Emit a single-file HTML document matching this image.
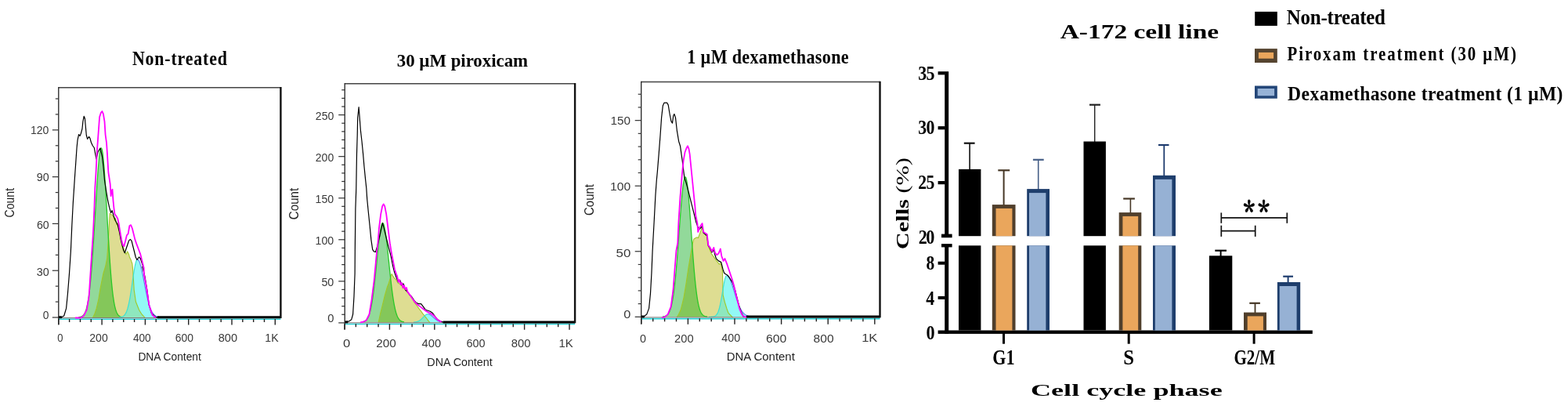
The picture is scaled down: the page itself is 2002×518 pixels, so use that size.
<!DOCTYPE html>
<html><head><meta charset="utf-8"><title>A-172 cell cycle</title>
<style>html,body{margin:0;padding:0;background:#fff;width:2002px;height:518px;overflow:hidden}svg{display:block}</style>
</head><body>
<svg width="2002" height="518" viewBox="0 0 2002 518"><defs><clipPath id="cg11"><polygon points="100.0,405.0 100.0,404.8 100.5,404.8 101.0,404.7 101.5,404.6 102.0,404.5 102.5,404.4 103.0,404.3 103.5,404.1 104.0,403.9 104.5,403.6 105.0,403.3 105.5,402.9 106.0,402.5 106.5,402.0 107.0,401.4 107.5,400.7 108.0,399.8 108.5,398.8 109.0,397.7 109.5,396.4 110.0,394.9 110.5,393.2 111.0,391.2 111.5,389.0 112.0,386.5 112.5,383.8 113.0,380.7 113.5,377.2 114.0,373.5 114.5,369.3 115.0,364.8 115.5,359.8 116.0,354.5 116.5,348.8 117.0,342.7 117.5,336.2 118.0,329.4 118.5,322.2 119.0,314.7 119.5,306.9 120.0,298.9 120.5,290.7 121.0,282.4 121.5,274.0 122.0,265.6 122.5,257.3 123.0,249.1 123.5,241.2 124.0,233.5 124.5,226.3 125.0,219.5 125.5,213.2 126.0,207.5 126.5,202.5 127.0,198.2 127.5,194.7 128.0,192.0 128.5,190.1 129.0,189.2 129.5,189.1 130.0,190.0 130.5,191.8 131.0,194.6 131.5,198.3 132.0,202.9 132.5,208.3 133.0,214.4 133.5,221.1 134.0,228.5 134.5,236.3 135.0,244.4 135.5,252.9 136.0,261.6 136.5,270.4 137.0,279.3 137.5,288.1 138.0,296.8 138.5,305.3 139.0,313.5 139.5,321.5 140.0,329.1 140.5,336.3 141.0,343.1 141.5,349.5 142.0,355.5 142.5,361.0 143.0,366.1 143.5,370.7 144.0,375.0 144.5,378.8 145.0,382.2 145.5,385.3 146.0,388.1 146.5,390.5 147.0,392.6 147.5,394.5 148.0,396.1 148.5,397.5 149.0,398.8 149.5,399.8 150.0,400.7 150.5,401.4 151.0,402.1 151.5,402.6 152.0,403.0 152.5,403.4 153.0,403.7 153.5,404.0 154.0,404.2 154.5,404.3 155.0,404.5 155.5,404.6 156.0,404.7 156.0,405.0"/></clipPath><clipPath id="cg21"><polygon points="152.0,405.0 152.0,404.9 152.5,404.9 153.0,404.8 153.5,404.8 154.0,404.7 154.5,404.6 155.0,404.5 155.5,404.3 156.0,404.2 156.5,404.0 157.0,403.7 157.5,403.4 158.0,403.0 158.5,402.6 159.0,402.0 159.5,401.4 160.0,400.7 160.5,399.8 161.0,398.9 161.5,397.7 162.0,396.4 162.5,395.0 163.0,393.4 163.5,391.5 164.0,389.5 164.5,387.3 165.0,384.9 165.5,382.3 166.0,379.6 166.5,376.6 167.0,373.5 167.5,370.3 168.0,367.0 168.5,363.6 169.0,360.1 169.5,356.7 170.0,353.3 170.5,350.0 171.0,346.8 171.5,343.8 172.0,341.0 172.5,338.5 173.0,336.3 173.5,334.4 174.0,332.9 174.5,331.9 175.0,331.2 175.5,331.0 176.0,331.1 176.5,331.5 177.0,332.1 177.5,333.0 178.0,334.1 178.5,335.4 179.0,336.9 179.5,338.6 180.0,340.5 180.5,342.5 181.0,344.7 181.5,347.0 182.0,349.4 182.5,351.9 183.0,354.4 183.5,357.0 184.0,359.6 184.5,362.2 185.0,364.8 185.5,367.4 186.0,369.9 186.5,372.3 187.0,374.7 187.5,377.0 188.0,379.3 188.5,381.4 189.0,383.4 189.5,385.3 190.0,387.1 190.5,388.8 191.0,390.4 191.5,391.9 192.0,393.3 192.5,394.5 193.0,395.7 193.5,396.7 194.0,397.7 194.5,398.6 195.0,399.3 195.5,400.0 196.0,400.7 196.5,401.2 197.0,401.7 197.5,402.2 198.0,402.6 198.5,402.9 199.0,403.2 199.5,403.5 200.0,403.7 200.5,403.9 201.0,404.1 201.5,404.2 202.0,404.4 202.5,404.5 203.0,404.6 203.5,404.6 204.0,404.7 204.0,405.0"/></clipPath><clipPath id="cg12"><polygon points="464.0,411.2 464.0,410.5 464.5,410.4 465.0,410.2 465.5,410.0 466.0,409.7 466.5,409.4 467.0,409.0 467.5,408.5 468.0,408.0 468.5,407.4 469.0,406.6 469.5,405.8 470.0,404.9 470.5,403.8 471.0,402.5 471.5,401.1 472.0,399.5 472.5,397.8 473.0,395.8 473.5,393.6 474.0,391.2 474.5,388.5 475.0,385.6 475.5,382.5 476.0,379.1 476.5,375.5 477.0,371.7 477.5,367.6 478.0,363.3 478.5,358.8 479.0,354.1 479.5,349.3 480.0,344.4 480.5,339.4 481.0,334.4 481.5,329.3 482.0,324.3 482.5,319.4 483.0,314.6 483.5,310.0 484.0,305.7 484.5,301.7 485.0,297.9 485.5,294.6 486.0,291.7 486.5,289.2 487.0,287.3 487.5,285.8 488.0,284.9 488.5,284.5 489.0,284.7 489.5,285.3 490.0,286.5 490.5,288.1 491.0,290.2 491.5,292.8 492.0,295.7 492.5,299.0 493.0,302.7 493.5,306.7 494.0,310.9 494.5,315.3 495.0,319.9 495.5,324.7 496.0,329.5 496.5,334.4 497.0,339.2 497.5,344.0 498.0,348.8 498.5,353.4 499.0,357.9 499.5,362.3 500.0,366.5 500.5,370.5 501.0,374.2 501.5,377.8 502.0,381.1 502.5,384.3 503.0,387.1 503.5,389.8 504.0,392.2 504.5,394.5 505.0,396.5 505.5,398.3 506.0,400.0 506.5,401.5 507.0,402.8 507.5,404.0 508.0,405.0 508.5,405.9 509.0,406.7 509.5,407.4 510.0,408.0 510.5,408.5 511.0,408.9 511.5,409.3 512.0,409.6 512.5,409.9 513.0,410.1 513.5,410.3 514.0,410.5 514.5,410.6 515.0,410.7 515.5,410.8 516.0,410.9 516.0,411.2"/></clipPath><clipPath id="cg22"><polygon points="528.0,411.2 528.0,411.1 528.5,411.1 529.0,411.0 529.5,411.0 530.0,410.9 530.5,410.9 531.0,410.8 531.5,410.7 532.0,410.6 532.5,410.5 533.0,410.3 533.5,410.1 534.0,409.9 534.5,409.7 535.0,409.4 535.5,409.1 536.0,408.8 536.5,408.4 537.0,408.0 537.5,407.6 538.0,407.2 538.5,406.7 539.0,406.2 539.5,405.7 540.0,405.1 540.5,404.6 541.0,404.1 541.5,403.6 542.0,403.1 542.5,402.6 543.0,402.2 543.5,401.8 544.0,401.4 544.5,401.2 545.0,400.9 545.5,400.8 546.0,400.7 546.5,400.7 547.0,400.8 547.5,400.9 548.0,401.0 548.5,401.2 549.0,401.5 549.5,401.7 550.0,402.1 550.5,402.4 551.0,402.8 551.5,403.2 552.0,403.7 552.5,404.1 553.0,404.6 553.5,405.0 554.0,405.5 554.5,405.9 555.0,406.3 555.5,406.8 556.0,407.2 556.5,407.6 557.0,407.9 557.5,408.3 558.0,408.6 558.5,408.9 559.0,409.2 559.5,409.4 560.0,409.7 560.5,409.9 561.0,410.0 561.5,410.2 562.0,410.4 562.5,410.5 563.0,410.6 563.5,410.7 564.0,410.8 564.5,410.8 565.0,410.9 565.5,411.0 566.0,411.0 566.0,411.2"/></clipPath><clipPath id="cg13"><polygon points="846.0,404.3 846.0,404.1 846.5,404.0 847.0,404.0 847.5,403.9 848.0,403.8 848.5,403.7 849.0,403.5 849.5,403.3 850.0,403.1 850.5,402.8 851.0,402.5 851.5,402.2 852.0,401.7 852.5,401.2 853.0,400.6 853.5,399.9 854.0,399.1 854.5,398.1 855.0,397.1 855.5,395.8 856.0,394.4 856.5,392.8 857.0,391.0 857.5,389.0 858.0,386.7 858.5,384.1 859.0,381.3 859.5,378.3 860.0,374.9 860.5,371.2 861.0,367.2 861.5,362.9 862.0,358.2 862.5,353.3 863.0,348.0 863.5,342.4 864.0,336.6 864.5,330.5 865.0,324.2 865.5,317.7 866.0,311.0 866.5,304.2 867.0,297.4 867.5,290.6 868.0,283.8 868.5,277.1 869.0,270.5 869.5,264.2 870.0,258.2 870.5,252.5 871.0,247.3 871.5,242.5 872.0,238.2 872.5,234.5 873.0,231.4 873.5,229.0 874.0,227.2 874.5,226.2 875.0,225.8 875.5,226.2 876.0,227.3 876.5,229.2 877.0,231.9 877.5,235.2 878.0,239.2 878.5,243.8 879.0,248.9 879.5,254.5 880.0,260.5 880.5,266.9 881.0,273.6 881.5,280.5 882.0,287.5 882.5,294.6 883.0,301.7 883.5,308.8 884.0,315.8 884.5,322.6 885.0,329.2 885.5,335.6 886.0,341.7 886.5,347.5 887.0,353.0 887.5,358.1 888.0,363.0 888.5,367.4 889.0,371.6 889.5,375.4 890.0,378.8 890.5,382.0 891.0,384.8 891.5,387.4 892.0,389.7 892.5,391.7 893.0,393.5 893.5,395.1 894.0,396.5 894.5,397.7 895.0,398.7 895.5,399.6 896.0,400.4 896.5,401.0 897.0,401.6 897.5,402.1 898.0,402.5 898.5,402.8 899.0,403.1 899.5,403.3 900.0,403.5 900.5,403.7 901.0,403.8 901.5,403.9 902.0,404.0 902.5,404.0 903.0,404.1 903.0,404.3"/></clipPath><clipPath id="cg23"><polygon points="905.0,404.3 905.0,404.3 905.5,404.3 906.0,404.3 906.5,404.3 907.0,404.3 907.5,404.3 908.0,404.3 908.5,404.2 909.0,404.2 909.5,404.2 910.0,404.1 910.5,404.0 911.0,404.0 911.5,403.8 912.0,403.7 912.5,403.5 913.0,403.2 913.5,402.9 914.0,402.5 914.5,402.0 915.0,401.4 915.5,400.7 916.0,399.9 916.5,398.9 917.0,397.7 917.5,396.3 918.0,394.8 918.5,393.0 919.0,391.0 919.5,388.8 920.0,386.5 920.5,383.9 921.0,381.2 921.5,378.3 922.0,375.3 922.5,372.3 923.0,369.3 923.5,366.4 924.0,363.5 924.5,360.9 925.0,358.5 925.5,356.3 926.0,354.6 926.5,353.2 927.0,352.2 927.5,351.7 928.0,351.6 928.5,351.7 929.0,352.0 929.5,352.4 930.0,352.9 930.5,353.6 931.0,354.3 931.5,355.2 932.0,356.2 932.5,357.3 933.0,358.5 933.5,359.8 934.0,361.2 934.5,362.6 935.0,364.1 935.5,365.6 936.0,367.2 936.5,368.8 937.0,370.4 937.5,372.0 938.0,373.6 938.5,375.3 939.0,376.9 939.5,378.5 940.0,380.0 940.5,381.5 941.0,383.0 941.5,384.5 942.0,385.9 942.5,387.2 943.0,388.5 943.5,389.7 944.0,390.9 944.5,392.0 945.0,393.0 945.5,394.0 946.0,394.9 946.5,395.8 947.0,396.6 947.5,397.3 948.0,398.0 948.5,398.6 949.0,399.2 949.5,399.8 950.0,400.2 950.5,400.7 951.0,401.1 951.5,401.5 952.0,401.8 952.5,402.1 953.0,402.4 953.5,402.6 954.0,402.8 954.5,403.0 955.0,403.2 955.5,403.3 956.0,403.5 956.5,403.6 957.0,403.7 957.5,403.8 958.0,403.8 958.5,403.9 959.0,404.0 959.5,404.0 960.0,404.1 960.5,404.1 961.0,404.1 961.5,404.2 962.0,404.2 962.0,404.3"/></clipPath></defs><rect width="2002" height="518" fill="#fff"/><polygon points="100.0,405.0 100.0,404.8 100.5,404.8 101.0,404.7 101.5,404.6 102.0,404.5 102.5,404.4 103.0,404.3 103.5,404.1 104.0,403.9 104.5,403.6 105.0,403.3 105.5,402.9 106.0,402.5 106.5,402.0 107.0,401.4 107.5,400.7 108.0,399.8 108.5,398.8 109.0,397.7 109.5,396.4 110.0,394.9 110.5,393.2 111.0,391.2 111.5,389.0 112.0,386.5 112.5,383.8 113.0,380.7 113.5,377.2 114.0,373.5 114.5,369.3 115.0,364.8 115.5,359.8 116.0,354.5 116.5,348.8 117.0,342.7 117.5,336.2 118.0,329.4 118.5,322.2 119.0,314.7 119.5,306.9 120.0,298.9 120.5,290.7 121.0,282.4 121.5,274.0 122.0,265.6 122.5,257.3 123.0,249.1 123.5,241.2 124.0,233.5 124.5,226.3 125.0,219.5 125.5,213.2 126.0,207.5 126.5,202.5 127.0,198.2 127.5,194.7 128.0,192.0 128.5,190.1 129.0,189.2 129.5,189.1 130.0,190.0 130.5,191.8 131.0,194.6 131.5,198.3 132.0,202.9 132.5,208.3 133.0,214.4 133.5,221.1 134.0,228.5 134.5,236.3 135.0,244.4 135.5,252.9 136.0,261.6 136.5,270.4 137.0,279.3 137.5,288.1 138.0,296.8 138.5,305.3 139.0,313.5 139.5,321.5 140.0,329.1 140.5,336.3 141.0,343.1 141.5,349.5 142.0,355.5 142.5,361.0 143.0,366.1 143.5,370.7 144.0,375.0 144.5,378.8 145.0,382.2 145.5,385.3 146.0,388.1 146.5,390.5 147.0,392.6 147.5,394.5 148.0,396.1 148.5,397.5 149.0,398.8 149.5,399.8 150.0,400.7 150.5,401.4 151.0,402.1 151.5,402.6 152.0,403.0 152.5,403.4 153.0,403.7 153.5,404.0 154.0,404.2 154.5,404.3 155.0,404.5 155.5,404.6 156.0,404.7 156.0,405.0" fill="rgb(146,217,154)"/>
<polygon points="118.4,405.5 121.0,400.0 123.2,393.4 126.0,381.0 128.0,368.3 131.9,349.0 134.8,339.3 136.7,329.7 138.0,310.0 139.5,285.0 140.2,272.4 142.8,274.1 144.5,276.0 146.3,281.0 147.5,279.0 148.9,286.3 150.6,284.5 152.4,295.0 153.5,301.0 155.0,307.0 156.2,311.0 157.6,315.8 159.3,321.0 161.0,324.4 162.8,321.0 164.5,324.4 165.4,328.0 167.1,331.4 168.9,336.6 169.7,345.0 170.5,358.0 171.2,370.0 173.4,385.0 177.6,395.5 181.0,401.0 184.0,404.0 185.0,405.5" fill="rgb(222,221,146)"/>
<polygon points="152.0,405.0 152.0,404.9 152.5,404.9 153.0,404.8 153.5,404.8 154.0,404.7 154.5,404.6 155.0,404.5 155.5,404.3 156.0,404.2 156.5,404.0 157.0,403.7 157.5,403.4 158.0,403.0 158.5,402.6 159.0,402.0 159.5,401.4 160.0,400.7 160.5,399.8 161.0,398.9 161.5,397.7 162.0,396.4 162.5,395.0 163.0,393.4 163.5,391.5 164.0,389.5 164.5,387.3 165.0,384.9 165.5,382.3 166.0,379.6 166.5,376.6 167.0,373.5 167.5,370.3 168.0,367.0 168.5,363.6 169.0,360.1 169.5,356.7 170.0,353.3 170.5,350.0 171.0,346.8 171.5,343.8 172.0,341.0 172.5,338.5 173.0,336.3 173.5,334.4 174.0,332.9 174.5,331.9 175.0,331.2 175.5,331.0 176.0,331.1 176.5,331.5 177.0,332.1 177.5,333.0 178.0,334.1 178.5,335.4 179.0,336.9 179.5,338.6 180.0,340.5 180.5,342.5 181.0,344.7 181.5,347.0 182.0,349.4 182.5,351.9 183.0,354.4 183.5,357.0 184.0,359.6 184.5,362.2 185.0,364.8 185.5,367.4 186.0,369.9 186.5,372.3 187.0,374.7 187.5,377.0 188.0,379.3 188.5,381.4 189.0,383.4 189.5,385.3 190.0,387.1 190.5,388.8 191.0,390.4 191.5,391.9 192.0,393.3 192.5,394.5 193.0,395.7 193.5,396.7 194.0,397.7 194.5,398.6 195.0,399.3 195.5,400.0 196.0,400.7 196.5,401.2 197.0,401.7 197.5,402.2 198.0,402.6 198.5,402.9 199.0,403.2 199.5,403.5 200.0,403.7 200.5,403.9 201.0,404.1 201.5,404.2 202.0,404.4 202.5,404.5 203.0,404.6 203.5,404.6 204.0,404.7 204.0,405.0" fill="rgb(146,248,245)"/>
<polygon points="118.4,405.5 121.0,400.0 123.2,393.4 126.0,381.0 128.0,368.3 131.9,349.0 134.8,339.3 136.7,329.7 138.0,310.0 139.5,285.0 140.2,272.4 142.8,274.1 144.5,276.0 146.3,281.0 147.5,279.0 148.9,286.3 150.6,284.5 152.4,295.0 153.5,301.0 155.0,307.0 156.2,311.0 157.6,315.8 159.3,321.0 161.0,324.4 162.8,321.0 164.5,324.4 165.4,328.0 167.1,331.4 168.9,336.6 169.7,345.0 170.5,358.0 171.2,370.0 173.4,385.0 177.6,395.5 181.0,401.0 184.0,404.0 185.0,405.5" fill="rgb(132,199,90)" clip-path="url(#cg11)"/>
<polygon points="118.4,405.5 121.0,400.0 123.2,393.4 126.0,381.0 128.0,368.3 131.9,349.0 134.8,339.3 136.7,329.7 138.0,310.0 139.5,285.0 140.2,272.4 142.8,274.1 144.5,276.0 146.3,281.0 147.5,279.0 148.9,286.3 150.6,284.5 152.4,295.0 153.5,301.0 155.0,307.0 156.2,311.0 157.6,315.8 159.3,321.0 161.0,324.4 162.8,321.0 164.5,324.4 165.4,328.0 167.1,331.4 168.9,336.6 169.7,345.0 170.5,358.0 171.2,370.0 173.4,385.0 177.6,395.5 181.0,401.0 184.0,404.0 185.0,405.5" fill="rgb(142,231,190)" clip-path="url(#cg21)"/>
<polyline points="118.4,405.5 121.0,400.0 123.2,393.4 126.0,381.0 128.0,368.3 131.9,349.0 134.8,339.3 136.7,329.7 138.0,310.0 139.5,285.0 140.2,272.4 142.8,274.1 144.5,276.0 146.3,281.0 147.5,279.0 148.9,286.3 150.6,284.5 152.4,295.0 153.5,301.0 155.0,307.0 156.2,311.0 157.6,315.8 159.3,321.0 161.0,324.4 162.8,321.0 164.5,324.4 165.4,328.0 167.1,331.4 168.9,336.6 169.7,345.0 170.5,358.0 171.2,370.0 173.4,385.0 177.6,395.5 181.0,401.0 184.0,404.0 185.0,405.5" fill="none" stroke="rgb(160,200,40)" stroke-width="1.1"/>
<polyline points="100.0,404.8 100.5,404.8 101.0,404.7 101.5,404.6 102.0,404.5 102.5,404.4 103.0,404.3 103.5,404.1 104.0,403.9 104.5,403.6 105.0,403.3 105.5,402.9 106.0,402.5 106.5,402.0 107.0,401.4 107.5,400.7 108.0,399.8 108.5,398.8 109.0,397.7 109.5,396.4 110.0,394.9 110.5,393.2 111.0,391.2 111.5,389.0 112.0,386.5 112.5,383.8 113.0,380.7 113.5,377.2 114.0,373.5 114.5,369.3 115.0,364.8 115.5,359.8 116.0,354.5 116.5,348.8 117.0,342.7 117.5,336.2 118.0,329.4 118.5,322.2 119.0,314.7 119.5,306.9 120.0,298.9 120.5,290.7 121.0,282.4 121.5,274.0 122.0,265.6 122.5,257.3 123.0,249.1 123.5,241.2 124.0,233.5 124.5,226.3 125.0,219.5 125.5,213.2 126.0,207.5 126.5,202.5 127.0,198.2 127.5,194.7 128.0,192.0 128.5,190.1 129.0,189.2 129.5,189.1 130.0,190.0 130.5,191.8 131.0,194.6 131.5,198.3 132.0,202.9 132.5,208.3 133.0,214.4 133.5,221.1 134.0,228.5 134.5,236.3 135.0,244.4 135.5,252.9 136.0,261.6 136.5,270.4 137.0,279.3 137.5,288.1 138.0,296.8 138.5,305.3 139.0,313.5 139.5,321.5 140.0,329.1 140.5,336.3 141.0,343.1 141.5,349.5 142.0,355.5 142.5,361.0 143.0,366.1 143.5,370.7 144.0,375.0 144.5,378.8 145.0,382.2 145.5,385.3 146.0,388.1 146.5,390.5 147.0,392.6 147.5,394.5 148.0,396.1 148.5,397.5 149.0,398.8 149.5,399.8 150.0,400.7 150.5,401.4 151.0,402.1 151.5,402.6 152.0,403.0 152.5,403.4 153.0,403.7 153.5,404.0 154.0,404.2 154.5,404.3 155.0,404.5 155.5,404.6 156.0,404.7" fill="none" stroke="rgb(40,200,40)" stroke-width="1.3"/>
<polyline points="152.0,404.9 152.5,404.9 153.0,404.8 153.5,404.8 154.0,404.7 154.5,404.6 155.0,404.5 155.5,404.3 156.0,404.2 156.5,404.0 157.0,403.7 157.5,403.4 158.0,403.0 158.5,402.6 159.0,402.0 159.5,401.4 160.0,400.7 160.5,399.8 161.0,398.9 161.5,397.7 162.0,396.4 162.5,395.0 163.0,393.4 163.5,391.5 164.0,389.5 164.5,387.3 165.0,384.9 165.5,382.3 166.0,379.6 166.5,376.6 167.0,373.5 167.5,370.3 168.0,367.0 168.5,363.6 169.0,360.1 169.5,356.7 170.0,353.3 170.5,350.0 171.0,346.8 171.5,343.8 172.0,341.0 172.5,338.5 173.0,336.3 173.5,334.4 174.0,332.9 174.5,331.9 175.0,331.2 175.5,331.0" fill="none" stroke="rgb(60,225,210)" stroke-width="1.2"/>
<polyline points="175.5,331.0 176.0,331.1 176.5,331.5 177.0,332.1 177.5,333.0 178.0,334.1 178.5,335.4 179.0,336.9 179.5,338.6 180.0,340.5 180.5,342.5 181.0,344.7 181.5,347.0 182.0,349.4 182.5,351.9 183.0,354.4 183.5,357.0 184.0,359.6 184.5,362.2 185.0,364.8 185.5,367.4 186.0,369.9 186.5,372.3 187.0,374.7 187.5,377.0 188.0,379.3 188.5,381.4 189.0,383.4 189.5,385.3 190.0,387.1 190.5,388.8 191.0,390.4 191.5,391.9 192.0,393.3 192.5,394.5 193.0,395.7 193.5,396.7 194.0,397.7 194.5,398.6 195.0,399.3 195.5,400.0 196.0,400.7 196.5,401.2 197.0,401.7 197.5,402.2 198.0,402.6 198.5,402.9 199.0,403.2 199.5,403.5 200.0,403.7 200.5,403.9 201.0,404.1 201.5,404.2 202.0,404.4 202.5,404.5 203.0,404.6 203.5,404.6 204.0,404.7" fill="none" stroke="rgb(100,120,240)" stroke-width="1.2"/>
<line x1="74.8" y1="407.3" x2="358.4" y2="407.3" stroke="rgb(40,210,215)" stroke-width="1.6"/>
<line x1="74.8" y1="405.6" x2="358.4" y2="405.6" stroke="rgb(120,110,110)" stroke-width="1"/>
<polyline points="74.8,405.0 78.0,405.0 81.7,403.0 84.6,393.4 86.5,374.0 88.5,349.0 90.4,320.0 91.8,288.0 93.3,259.0 95.2,230.0 96.8,207.0 98.1,188.0 99.1,178.3 100.6,171.5 102.0,173.4 103.3,170.5 104.9,164.7 105.9,155.1 107.2,148.3 108.4,151.2 109.1,159.0 110.3,172.5 111.6,177.3 113.6,174.4 114.9,176.3 116.5,182.0 118.4,186.0 120.3,188.5 122.0,198.0 123.0,203.0 125.0,194.0 128.0,189.0 130.5,200.0 132.0,213.0 133.5,230.0 135.5,243.0 137.7,255.8 139.6,264.7 141.6,271.5 143.1,268.6 145.4,276.3 147.4,281.5 150.3,287.0 152.2,295.0 154.1,305.0 155.8,312.3 157.6,319.2 159.3,322.7 161.0,317.5 162.8,312.3 164.5,307.1 166.3,305.4 168.0,307.1 169.7,314.0 171.5,321.0 173.2,328.0 174.9,331.4 177.5,328.0 179.3,329.7 181.0,335.0 182.7,340.1 181.8,340.3 185.0,353.0 187.8,370.0 190.3,389.2 193.5,399.8 198.8,404.6 201.0,405.0" fill="none" stroke="#000" stroke-width="1.2" stroke-linejoin="round"/>
<polyline points="96.0,405.5 103.0,405.5 106.8,403.0 110.7,395.3 113.6,378.0 115.5,349.0 117.4,320.0 118.8,300.0 120.3,268.6 121.3,240.0 122.4,222.3 123.4,202.0 124.2,188.5 125.7,168.6 127.1,149.3 129.0,143.5 130.4,142.0 131.9,145.4 133.5,155.1 134.6,172.0 136.0,182.0 136.9,195.3 137.7,208.8 138.4,220.0 139.5,227.0 140.7,235.0 141.6,250.0 142.5,244.0 143.5,241.6 144.5,256.0 145.4,265.0 146.4,273.0 148.3,275.5 150.3,279.0 151.5,284.5 153.2,295.0 155.0,305.4 156.7,312.3 158.4,314.0 160.2,307.1 161.9,300.1 163.6,298.4 165.4,288.0 167.1,287.1 168.9,291.5 170.6,298.4 172.3,305.4 174.1,310.6 176.7,317.5 179.3,324.4 181.0,331.4 183.6,341.8 184.0,351.0 187.2,368.0 190.3,389.2 194.6,402.0 198.8,405.2" fill="none" stroke="#ff00ff" stroke-width="1.8" stroke-linejoin="round"/>
<line x1="201" y1="404.7" x2="358.4" y2="404.7" stroke="#000" stroke-width="3"/>
<line x1="74.8" y1="404.7" x2="78.8" y2="404.7" stroke="#000" stroke-width="3"/>
<line x1="74.8" y1="111.7" x2="358.4" y2="111.7" stroke="#444" stroke-width="1.5"/>
<line x1="358.4" y1="111.0" x2="358.4" y2="406.0" stroke="#111" stroke-width="2.4"/>
<line x1="74.8" y1="111.0" x2="74.8" y2="414.0" stroke="#222" stroke-width="1.3"/>
<line x1="66.8" y1="405.0" x2="74.8" y2="405.0" stroke="#333" stroke-width="1.2"/>
<line x1="70.8" y1="385.07" x2="74.8" y2="385.07" stroke="#333" stroke-width="1.2"/>
<line x1="70.8" y1="365.14" x2="74.8" y2="365.14" stroke="#333" stroke-width="1.2"/>
<line x1="66.8" y1="345.21" x2="74.8" y2="345.21" stroke="#333" stroke-width="1.2"/>
<line x1="70.8" y1="325.28" x2="74.8" y2="325.28" stroke="#333" stroke-width="1.2"/>
<line x1="70.8" y1="305.35" x2="74.8" y2="305.35" stroke="#333" stroke-width="1.2"/>
<line x1="66.8" y1="285.41999999999996" x2="74.8" y2="285.41999999999996" stroke="#333" stroke-width="1.2"/>
<line x1="70.8" y1="265.49" x2="74.8" y2="265.49" stroke="#333" stroke-width="1.2"/>
<line x1="70.8" y1="245.56" x2="74.8" y2="245.56" stroke="#333" stroke-width="1.2"/>
<line x1="66.8" y1="225.63" x2="74.8" y2="225.63" stroke="#333" stroke-width="1.2"/>
<line x1="70.8" y1="205.7" x2="74.8" y2="205.7" stroke="#333" stroke-width="1.2"/>
<line x1="70.8" y1="185.76999999999998" x2="74.8" y2="185.76999999999998" stroke="#333" stroke-width="1.2"/>
<line x1="66.8" y1="165.83999999999997" x2="74.8" y2="165.83999999999997" stroke="#333" stroke-width="1.2"/>
<line x1="70.8" y1="145.90999999999997" x2="74.8" y2="145.90999999999997" stroke="#333" stroke-width="1.2"/>
<line x1="70.8" y1="125.97999999999996" x2="74.8" y2="125.97999999999996" stroke="#333" stroke-width="1.2"/>
<line x1="74.8" y1="407.0" x2="74.8" y2="414.5" stroke="#222" stroke-width="1.4"/>
<line x1="88.625" y1="407.0" x2="88.625" y2="411.0" stroke="#222" stroke-width="1.4"/>
<line x1="102.45" y1="407.0" x2="102.45" y2="411.0" stroke="#222" stroke-width="1.4"/>
<line x1="116.275" y1="407.0" x2="116.275" y2="411.0" stroke="#222" stroke-width="1.4"/>
<line x1="130.1" y1="407.0" x2="130.1" y2="414.5" stroke="#222" stroke-width="1.4"/>
<line x1="143.925" y1="407.0" x2="143.925" y2="411.0" stroke="#222" stroke-width="1.4"/>
<line x1="157.75" y1="407.0" x2="157.75" y2="411.0" stroke="#222" stroke-width="1.4"/>
<line x1="171.575" y1="407.0" x2="171.575" y2="411.0" stroke="#222" stroke-width="1.4"/>
<line x1="185.4" y1="407.0" x2="185.4" y2="414.5" stroke="#222" stroke-width="1.4"/>
<line x1="199.22500000000002" y1="407.0" x2="199.22500000000002" y2="411.0" stroke="#222" stroke-width="1.4"/>
<line x1="213.05" y1="407.0" x2="213.05" y2="411.0" stroke="#222" stroke-width="1.4"/>
<line x1="226.875" y1="407.0" x2="226.875" y2="411.0" stroke="#222" stroke-width="1.4"/>
<line x1="240.7" y1="407.0" x2="240.7" y2="414.5" stroke="#222" stroke-width="1.4"/>
<line x1="254.52500000000003" y1="407.0" x2="254.52500000000003" y2="411.0" stroke="#222" stroke-width="1.4"/>
<line x1="268.35" y1="407.0" x2="268.35" y2="411.0" stroke="#222" stroke-width="1.4"/>
<line x1="282.175" y1="407.0" x2="282.175" y2="411.0" stroke="#222" stroke-width="1.4"/>
<line x1="296.0" y1="407.0" x2="296.0" y2="414.5" stroke="#222" stroke-width="1.4"/>
<line x1="309.82500000000005" y1="407.0" x2="309.82500000000005" y2="411.0" stroke="#222" stroke-width="1.4"/>
<line x1="323.65000000000003" y1="407.0" x2="323.65000000000003" y2="411.0" stroke="#222" stroke-width="1.4"/>
<line x1="337.475" y1="407.0" x2="337.475" y2="411.0" stroke="#222" stroke-width="1.4"/>
<line x1="351.3" y1="407.0" x2="351.3" y2="414.5" stroke="#222" stroke-width="1.4"/>
<text x="38.94" y="170.57" font-family="'Liberation Sans', Arial, sans-serif" font-size="14.69" font-weight="normal" fill="#383838" textLength="23.51" lengthAdjust="spacingAndGlyphs" >120</text>
<text x="46.82" y="231.40" font-family="'Liberation Sans', Arial, sans-serif" font-size="14.69" font-weight="normal" fill="#383838" textLength="15.90" lengthAdjust="spacingAndGlyphs" >90</text>
<text x="46.97" y="291.82" font-family="'Liberation Sans', Arial, sans-serif" font-size="14.69" font-weight="normal" fill="#383838" textLength="15.80" lengthAdjust="spacingAndGlyphs" >60</text>
<text x="46.66" y="352.39" font-family="'Liberation Sans', Arial, sans-serif" font-size="14.69" font-weight="normal" fill="#383838" textLength="15.97" lengthAdjust="spacingAndGlyphs" >30</text>
<text x="54.65" y="406.82" font-family="'Liberation Sans', Arial, sans-serif" font-size="14.69" font-weight="normal" fill="#383838" textLength="7.68" lengthAdjust="spacingAndGlyphs" >0</text>
<text x="73.33" y="435.77" font-family="'Liberation Sans', Arial, sans-serif" font-size="14.69" font-weight="normal" fill="#383838" textLength="7.26" lengthAdjust="spacingAndGlyphs" >0</text>
<text x="114.33" y="435.79" font-family="'Liberation Sans', Arial, sans-serif" font-size="14.69" font-weight="normal" fill="#383838" textLength="23.36" lengthAdjust="spacingAndGlyphs" >200</text>
<text x="169.98" y="435.92" font-family="'Liberation Sans', Arial, sans-serif" font-size="14.69" font-weight="normal" fill="#383838" textLength="22.70" lengthAdjust="spacingAndGlyphs" >400</text>
<text x="223.84" y="435.84" font-family="'Liberation Sans', Arial, sans-serif" font-size="14.69" font-weight="normal" fill="#383838" textLength="23.14" lengthAdjust="spacingAndGlyphs" >600</text>
<text x="278.76" y="435.94" font-family="'Liberation Sans', Arial, sans-serif" font-size="14.69" font-weight="normal" fill="#383838" textLength="24.29" lengthAdjust="spacingAndGlyphs" >800</text>
<text x="338.29" y="435.91" font-family="'Liberation Sans', Arial, sans-serif" font-size="14.69" font-weight="normal" fill="#383838" textLength="17.28" lengthAdjust="spacingAndGlyphs" >1K</text>
<text x="176.40" y="459.67" font-family="'Liberation Sans', Arial, sans-serif" font-size="13.72" font-weight="normal" fill="#222" textLength="80.49" lengthAdjust="spacingAndGlyphs" >DNA Content</text>
<text transform="translate(18.18,258.66) rotate(-90)" x="0" y="0" text-anchor="middle" font-family="'Liberation Sans', Arial, sans-serif" font-size="17.05" font-weight="normal" fill="#222" textLength="37.49" lengthAdjust="spacingAndGlyphs">Count</text>
<polygon points="464.0,411.2 464.0,410.5 464.5,410.4 465.0,410.2 465.5,410.0 466.0,409.7 466.5,409.4 467.0,409.0 467.5,408.5 468.0,408.0 468.5,407.4 469.0,406.6 469.5,405.8 470.0,404.9 470.5,403.8 471.0,402.5 471.5,401.1 472.0,399.5 472.5,397.8 473.0,395.8 473.5,393.6 474.0,391.2 474.5,388.5 475.0,385.6 475.5,382.5 476.0,379.1 476.5,375.5 477.0,371.7 477.5,367.6 478.0,363.3 478.5,358.8 479.0,354.1 479.5,349.3 480.0,344.4 480.5,339.4 481.0,334.4 481.5,329.3 482.0,324.3 482.5,319.4 483.0,314.6 483.5,310.0 484.0,305.7 484.5,301.7 485.0,297.9 485.5,294.6 486.0,291.7 486.5,289.2 487.0,287.3 487.5,285.8 488.0,284.9 488.5,284.5 489.0,284.7 489.5,285.3 490.0,286.5 490.5,288.1 491.0,290.2 491.5,292.8 492.0,295.7 492.5,299.0 493.0,302.7 493.5,306.7 494.0,310.9 494.5,315.3 495.0,319.9 495.5,324.7 496.0,329.5 496.5,334.4 497.0,339.2 497.5,344.0 498.0,348.8 498.5,353.4 499.0,357.9 499.5,362.3 500.0,366.5 500.5,370.5 501.0,374.2 501.5,377.8 502.0,381.1 502.5,384.3 503.0,387.1 503.5,389.8 504.0,392.2 504.5,394.5 505.0,396.5 505.5,398.3 506.0,400.0 506.5,401.5 507.0,402.8 507.5,404.0 508.0,405.0 508.5,405.9 509.0,406.7 509.5,407.4 510.0,408.0 510.5,408.5 511.0,408.9 511.5,409.3 512.0,409.6 512.5,409.9 513.0,410.1 513.5,410.3 514.0,410.5 514.5,410.6 515.0,410.7 515.5,410.8 516.0,410.9 516.0,411.2" fill="rgb(146,217,154)"/>
<polygon points="483.2,411.7 485.5,400.5 488.0,390.7 491.2,377.5 494.5,366.0 496.1,362.0 498.0,356.0 499.5,351.0 500.2,349.7 502.7,353.8 505.6,356.7 508.5,361.5 511.4,362.5 514.3,366.3 517.2,369.2 520.3,372.1 523.2,376.0 526.1,379.8 529.0,385.6 531.9,389.5 534.7,393.4 537.6,397.2 540.5,401.1 544.4,405.9 547.3,409.8 549.0,411.7" fill="rgb(222,221,146)"/>
<polygon points="528.0,411.2 528.0,411.1 528.5,411.1 529.0,411.0 529.5,411.0 530.0,410.9 530.5,410.9 531.0,410.8 531.5,410.7 532.0,410.6 532.5,410.5 533.0,410.3 533.5,410.1 534.0,409.9 534.5,409.7 535.0,409.4 535.5,409.1 536.0,408.8 536.5,408.4 537.0,408.0 537.5,407.6 538.0,407.2 538.5,406.7 539.0,406.2 539.5,405.7 540.0,405.1 540.5,404.6 541.0,404.1 541.5,403.6 542.0,403.1 542.5,402.6 543.0,402.2 543.5,401.8 544.0,401.4 544.5,401.2 545.0,400.9 545.5,400.8 546.0,400.7 546.5,400.7 547.0,400.8 547.5,400.9 548.0,401.0 548.5,401.2 549.0,401.5 549.5,401.7 550.0,402.1 550.5,402.4 551.0,402.8 551.5,403.2 552.0,403.7 552.5,404.1 553.0,404.6 553.5,405.0 554.0,405.5 554.5,405.9 555.0,406.3 555.5,406.8 556.0,407.2 556.5,407.6 557.0,407.9 557.5,408.3 558.0,408.6 558.5,408.9 559.0,409.2 559.5,409.4 560.0,409.7 560.5,409.9 561.0,410.0 561.5,410.2 562.0,410.4 562.5,410.5 563.0,410.6 563.5,410.7 564.0,410.8 564.5,410.8 565.0,410.9 565.5,411.0 566.0,411.0 566.0,411.2" fill="rgb(146,248,245)"/>
<polygon points="483.2,411.7 485.5,400.5 488.0,390.7 491.2,377.5 494.5,366.0 496.1,362.0 498.0,356.0 499.5,351.0 500.2,349.7 502.7,353.8 505.6,356.7 508.5,361.5 511.4,362.5 514.3,366.3 517.2,369.2 520.3,372.1 523.2,376.0 526.1,379.8 529.0,385.6 531.9,389.5 534.7,393.4 537.6,397.2 540.5,401.1 544.4,405.9 547.3,409.8 549.0,411.7" fill="rgb(132,199,90)" clip-path="url(#cg12)"/>
<polygon points="483.2,411.7 485.5,400.5 488.0,390.7 491.2,377.5 494.5,366.0 496.1,362.0 498.0,356.0 499.5,351.0 500.2,349.7 502.7,353.8 505.6,356.7 508.5,361.5 511.4,362.5 514.3,366.3 517.2,369.2 520.3,372.1 523.2,376.0 526.1,379.8 529.0,385.6 531.9,389.5 534.7,393.4 537.6,397.2 540.5,401.1 544.4,405.9 547.3,409.8 549.0,411.7" fill="rgb(142,231,190)" clip-path="url(#cg22)"/>
<polyline points="483.2,411.7 485.5,400.5 488.0,390.7 491.2,377.5 494.5,366.0 496.1,362.0 498.0,356.0 499.5,351.0 500.2,349.7 502.7,353.8 505.6,356.7 508.5,361.5 511.4,362.5 514.3,366.3 517.2,369.2 520.3,372.1 523.2,376.0 526.1,379.8 529.0,385.6 531.9,389.5 534.7,393.4 537.6,397.2 540.5,401.1 544.4,405.9 547.3,409.8 549.0,411.7" fill="none" stroke="rgb(160,200,40)" stroke-width="1.1"/>
<polyline points="464.0,410.5 464.5,410.4 465.0,410.2 465.5,410.0 466.0,409.7 466.5,409.4 467.0,409.0 467.5,408.5 468.0,408.0 468.5,407.4 469.0,406.6 469.5,405.8 470.0,404.9 470.5,403.8 471.0,402.5 471.5,401.1 472.0,399.5 472.5,397.8 473.0,395.8 473.5,393.6 474.0,391.2 474.5,388.5 475.0,385.6 475.5,382.5 476.0,379.1 476.5,375.5 477.0,371.7 477.5,367.6 478.0,363.3 478.5,358.8 479.0,354.1 479.5,349.3 480.0,344.4 480.5,339.4 481.0,334.4 481.5,329.3 482.0,324.3 482.5,319.4 483.0,314.6 483.5,310.0 484.0,305.7 484.5,301.7 485.0,297.9 485.5,294.6 486.0,291.7 486.5,289.2 487.0,287.3 487.5,285.8 488.0,284.9 488.5,284.5 489.0,284.7 489.5,285.3 490.0,286.5 490.5,288.1 491.0,290.2 491.5,292.8 492.0,295.7 492.5,299.0 493.0,302.7 493.5,306.7 494.0,310.9 494.5,315.3 495.0,319.9 495.5,324.7 496.0,329.5 496.5,334.4 497.0,339.2 497.5,344.0 498.0,348.8 498.5,353.4 499.0,357.9 499.5,362.3 500.0,366.5 500.5,370.5 501.0,374.2 501.5,377.8 502.0,381.1 502.5,384.3 503.0,387.1 503.5,389.8 504.0,392.2 504.5,394.5 505.0,396.5 505.5,398.3 506.0,400.0 506.5,401.5 507.0,402.8 507.5,404.0 508.0,405.0 508.5,405.9 509.0,406.7 509.5,407.4 510.0,408.0 510.5,408.5 511.0,408.9 511.5,409.3 512.0,409.6 512.5,409.9 513.0,410.1 513.5,410.3 514.0,410.5 514.5,410.6 515.0,410.7 515.5,410.8 516.0,410.9" fill="none" stroke="rgb(40,200,40)" stroke-width="1.3"/>
<polyline points="528.0,411.1 528.5,411.1 529.0,411.0 529.5,411.0 530.0,410.9 530.5,410.9 531.0,410.8 531.5,410.7 532.0,410.6 532.5,410.5 533.0,410.3 533.5,410.1 534.0,409.9 534.5,409.7 535.0,409.4 535.5,409.1 536.0,408.8 536.5,408.4 537.0,408.0 537.5,407.6 538.0,407.2 538.5,406.7 539.0,406.2 539.5,405.7 540.0,405.1 540.5,404.6 541.0,404.1 541.5,403.6 542.0,403.1 542.5,402.6 543.0,402.2 543.5,401.8 544.0,401.4 544.5,401.2 545.0,400.9 545.5,400.8 546.0,400.7" fill="none" stroke="rgb(60,225,210)" stroke-width="1.2"/>
<polyline points="546.5,400.7 547.0,400.8 547.5,400.9 548.0,401.0 548.5,401.2 549.0,401.5 549.5,401.7 550.0,402.1 550.5,402.4 551.0,402.8 551.5,403.2 552.0,403.7 552.5,404.1 553.0,404.6 553.5,405.0 554.0,405.5 554.5,405.9 555.0,406.3 555.5,406.8 556.0,407.2 556.5,407.6 557.0,407.9 557.5,408.3 558.0,408.6 558.5,408.9 559.0,409.2 559.5,409.4 560.0,409.7 560.5,409.9 561.0,410.0 561.5,410.2 562.0,410.4 562.5,410.5 563.0,410.6 563.5,410.7 564.0,410.8 564.5,410.8 565.0,410.9 565.5,411.0 566.0,411.0" fill="none" stroke="rgb(100,120,240)" stroke-width="1.2"/>
<line x1="440.2" y1="413.5" x2="734.1" y2="413.5" stroke="rgb(40,210,215)" stroke-width="1.6"/>
<line x1="440.2" y1="411.8" x2="734.1" y2="411.8" stroke="rgb(120,110,110)" stroke-width="1"/>
<polyline points="440.2,410.8 445.8,409.8 448.7,407.8 450.6,401.0 452.0,378.0 453.1,349.0 453.3,320.0 453.6,292.2 453.9,266.0 454.8,240.0 455.1,219.6 455.5,196.4 456.2,173.3 456.7,150.1 458.1,136.7 459.0,147.8 460.4,166.3 462.0,180.2 463.6,196.4 465.0,212.7 466.6,228.9 467.8,240.0 468.7,253.9 470.4,271.3 472.2,288.7 473.9,306.1 475.7,318.3 477.4,320.9 479.5,321.5 481.5,315.0 485.1,300.0 488.5,284.7 493.2,303.3 496.6,317.2 499.0,326.4 501.3,338.0 503.6,347.3 506.0,354.0 508.7,360.0 511.0,358.0 513.0,364.0 515.0,362.0 517.4,369.5 520.3,372.5 523.2,376.5 525.1,377.9 529.0,383.7 531.9,386.6 534.7,387.6 537.6,387.6 540.5,391.4 543.4,395.3 546.3,396.3 549.2,397.2 552.1,399.2 555.0,403.0 557.9,406.9 561.8,409.8 565.6,410.8" fill="none" stroke="#000" stroke-width="1.2" stroke-linejoin="round"/>
<polyline points="460.0,411.3 463.5,410.7 467.5,408.8 471.5,401.0 474.6,381.8 477.6,358.6 479.4,339.3 481.2,320.0 482.1,314.9 483.9,291.7 486.2,273.2 488.2,263.0 489.7,260.4 491.2,263.0 493.2,273.2 495.5,291.7 497.8,310.2 500.1,324.1 502.4,335.7 504.0,344.0 505.9,349.6 507.0,352.0 508.7,359.6 510.0,357.0 511.6,363.4 513.0,361.0 514.5,367.3 516.0,364.0 517.4,369.2 519.0,367.0 520.3,372.1 523.2,376.0 527.0,381.8 529.9,385.6 532.8,388.5 536.7,391.4 540.5,394.3 544.4,397.2 548.3,399.2 552.1,401.1 556.0,404.9 559.8,408.8 563.7,410.6" fill="none" stroke="#ff00ff" stroke-width="1.8" stroke-linejoin="round"/>
<line x1="565.6" y1="410.9" x2="734.1" y2="410.9" stroke="#000" stroke-width="3"/>
<line x1="440.2" y1="410.9" x2="444.2" y2="410.9" stroke="#000" stroke-width="3"/>
<line x1="440.2" y1="106.8" x2="734.1" y2="106.8" stroke="#444" stroke-width="1.5"/>
<line x1="734.1" y1="106.1" x2="734.1" y2="412.2" stroke="#111" stroke-width="2.4"/>
<line x1="440.2" y1="106.1" x2="440.2" y2="420.2" stroke="#222" stroke-width="1.3"/>
<line x1="432.2" y1="411.9" x2="440.2" y2="411.9" stroke="#333" stroke-width="1.2"/>
<line x1="436.2" y1="401.28799999999995" x2="440.2" y2="401.28799999999995" stroke="#333" stroke-width="1.2"/>
<line x1="436.2" y1="390.676" x2="440.2" y2="390.676" stroke="#333" stroke-width="1.2"/>
<line x1="436.2" y1="380.06399999999996" x2="440.2" y2="380.06399999999996" stroke="#333" stroke-width="1.2"/>
<line x1="436.2" y1="369.452" x2="440.2" y2="369.452" stroke="#333" stroke-width="1.2"/>
<line x1="432.2" y1="358.84" x2="440.2" y2="358.84" stroke="#333" stroke-width="1.2"/>
<line x1="436.2" y1="348.22799999999995" x2="440.2" y2="348.22799999999995" stroke="#333" stroke-width="1.2"/>
<line x1="436.2" y1="337.616" x2="440.2" y2="337.616" stroke="#333" stroke-width="1.2"/>
<line x1="436.2" y1="327.004" x2="440.2" y2="327.004" stroke="#333" stroke-width="1.2"/>
<line x1="436.2" y1="316.392" x2="440.2" y2="316.392" stroke="#333" stroke-width="1.2"/>
<line x1="432.2" y1="305.78" x2="440.2" y2="305.78" stroke="#333" stroke-width="1.2"/>
<line x1="436.2" y1="295.168" x2="440.2" y2="295.168" stroke="#333" stroke-width="1.2"/>
<line x1="436.2" y1="284.556" x2="440.2" y2="284.556" stroke="#333" stroke-width="1.2"/>
<line x1="436.2" y1="273.94399999999996" x2="440.2" y2="273.94399999999996" stroke="#333" stroke-width="1.2"/>
<line x1="436.2" y1="263.332" x2="440.2" y2="263.332" stroke="#333" stroke-width="1.2"/>
<line x1="432.2" y1="252.72" x2="440.2" y2="252.72" stroke="#333" stroke-width="1.2"/>
<line x1="436.2" y1="242.108" x2="440.2" y2="242.108" stroke="#333" stroke-width="1.2"/>
<line x1="436.2" y1="231.49599999999998" x2="440.2" y2="231.49599999999998" stroke="#333" stroke-width="1.2"/>
<line x1="436.2" y1="220.884" x2="440.2" y2="220.884" stroke="#333" stroke-width="1.2"/>
<line x1="436.2" y1="210.272" x2="440.2" y2="210.272" stroke="#333" stroke-width="1.2"/>
<line x1="432.2" y1="199.66" x2="440.2" y2="199.66" stroke="#333" stroke-width="1.2"/>
<line x1="436.2" y1="189.048" x2="440.2" y2="189.048" stroke="#333" stroke-width="1.2"/>
<line x1="436.2" y1="178.436" x2="440.2" y2="178.436" stroke="#333" stroke-width="1.2"/>
<line x1="436.2" y1="167.82399999999998" x2="440.2" y2="167.82399999999998" stroke="#333" stroke-width="1.2"/>
<line x1="436.2" y1="157.212" x2="440.2" y2="157.212" stroke="#333" stroke-width="1.2"/>
<line x1="432.2" y1="146.60000000000002" x2="440.2" y2="146.60000000000002" stroke="#333" stroke-width="1.2"/>
<line x1="436.2" y1="135.988" x2="440.2" y2="135.988" stroke="#333" stroke-width="1.2"/>
<line x1="436.2" y1="125.37599999999998" x2="440.2" y2="125.37599999999998" stroke="#333" stroke-width="1.2"/>
<line x1="436.2" y1="114.76400000000001" x2="440.2" y2="114.76400000000001" stroke="#333" stroke-width="1.2"/>
<line x1="440.0" y1="413.2" x2="440.0" y2="420.7" stroke="#222" stroke-width="1.4"/>
<line x1="454.35" y1="413.2" x2="454.35" y2="417.2" stroke="#222" stroke-width="1.4"/>
<line x1="468.7" y1="413.2" x2="468.7" y2="417.2" stroke="#222" stroke-width="1.4"/>
<line x1="483.05" y1="413.2" x2="483.05" y2="417.2" stroke="#222" stroke-width="1.4"/>
<line x1="497.4" y1="413.2" x2="497.4" y2="420.7" stroke="#222" stroke-width="1.4"/>
<line x1="511.75" y1="413.2" x2="511.75" y2="417.2" stroke="#222" stroke-width="1.4"/>
<line x1="526.1" y1="413.2" x2="526.1" y2="417.2" stroke="#222" stroke-width="1.4"/>
<line x1="540.45" y1="413.2" x2="540.45" y2="417.2" stroke="#222" stroke-width="1.4"/>
<line x1="554.8" y1="413.2" x2="554.8" y2="420.7" stroke="#222" stroke-width="1.4"/>
<line x1="569.15" y1="413.2" x2="569.15" y2="417.2" stroke="#222" stroke-width="1.4"/>
<line x1="583.5" y1="413.2" x2="583.5" y2="417.2" stroke="#222" stroke-width="1.4"/>
<line x1="597.85" y1="413.2" x2="597.85" y2="417.2" stroke="#222" stroke-width="1.4"/>
<line x1="612.2" y1="413.2" x2="612.2" y2="420.7" stroke="#222" stroke-width="1.4"/>
<line x1="626.55" y1="413.2" x2="626.55" y2="417.2" stroke="#222" stroke-width="1.4"/>
<line x1="640.9" y1="413.2" x2="640.9" y2="417.2" stroke="#222" stroke-width="1.4"/>
<line x1="655.25" y1="413.2" x2="655.25" y2="417.2" stroke="#222" stroke-width="1.4"/>
<line x1="669.6" y1="413.2" x2="669.6" y2="420.7" stroke="#222" stroke-width="1.4"/>
<line x1="683.95" y1="413.2" x2="683.95" y2="417.2" stroke="#222" stroke-width="1.4"/>
<line x1="698.3" y1="413.2" x2="698.3" y2="417.2" stroke="#222" stroke-width="1.4"/>
<line x1="712.65" y1="413.2" x2="712.65" y2="417.2" stroke="#222" stroke-width="1.4"/>
<line x1="727.0" y1="413.2" x2="727.0" y2="420.7" stroke="#222" stroke-width="1.4"/>
<text x="402.83" y="152.57" font-family="'Liberation Sans', Arial, sans-serif" font-size="14.69" font-weight="normal" fill="#383838" textLength="23.54" lengthAdjust="spacingAndGlyphs" >250</text>
<text x="402.82" y="206.24" font-family="'Liberation Sans', Arial, sans-serif" font-size="14.69" font-weight="normal" fill="#383838" textLength="23.40" lengthAdjust="spacingAndGlyphs" >200</text>
<text x="402.56" y="258.57" font-family="'Liberation Sans', Arial, sans-serif" font-size="14.69" font-weight="normal" fill="#383838" textLength="23.58" lengthAdjust="spacingAndGlyphs" >150</text>
<text x="402.56" y="311.94" font-family="'Liberation Sans', Arial, sans-serif" font-size="14.69" font-weight="normal" fill="#383838" textLength="23.58" lengthAdjust="spacingAndGlyphs" >100</text>
<text x="410.39" y="364.71" font-family="'Liberation Sans', Arial, sans-serif" font-size="14.69" font-weight="normal" fill="#383838" textLength="15.86" lengthAdjust="spacingAndGlyphs" >50</text>
<text x="418.34" y="410.88" font-family="'Liberation Sans', Arial, sans-serif" font-size="14.69" font-weight="normal" fill="#383838" textLength="8.20" lengthAdjust="spacingAndGlyphs" >0</text>
<text x="437.95" y="442.85" font-family="'Liberation Sans', Arial, sans-serif" font-size="14.69" font-weight="normal" fill="#383838" textLength="9.24" lengthAdjust="spacingAndGlyphs" >0</text>
<text x="480.34" y="442.80" font-family="'Liberation Sans', Arial, sans-serif" font-size="14.69" font-weight="normal" fill="#383838" textLength="25.53" lengthAdjust="spacingAndGlyphs" >200</text>
<text x="538.61" y="442.87" font-family="'Liberation Sans', Arial, sans-serif" font-size="14.69" font-weight="normal" fill="#383838" textLength="24.41" lengthAdjust="spacingAndGlyphs" >400</text>
<text x="595.56" y="442.84" font-family="'Liberation Sans', Arial, sans-serif" font-size="14.69" font-weight="normal" fill="#383838" textLength="24.06" lengthAdjust="spacingAndGlyphs" >600</text>
<text x="652.72" y="442.88" font-family="'Liberation Sans', Arial, sans-serif" font-size="14.69" font-weight="normal" fill="#383838" textLength="24.78" lengthAdjust="spacingAndGlyphs" >800</text>
<text x="713.41" y="442.97" font-family="'Liberation Sans', Arial, sans-serif" font-size="14.69" font-weight="normal" fill="#383838" textLength="18.30" lengthAdjust="spacingAndGlyphs" >1K</text>
<text x="545.33" y="466.74" font-family="'Liberation Sans', Arial, sans-serif" font-size="13.72" font-weight="normal" fill="#222" textLength="83.36" lengthAdjust="spacingAndGlyphs" >DNA Content</text>
<text transform="translate(381.30,260.03) rotate(-90)" x="0" y="0" text-anchor="middle" font-family="'Liberation Sans', Arial, sans-serif" font-size="15.81" font-weight="normal" fill="#222" textLength="40.40" lengthAdjust="spacingAndGlyphs">Count</text>
<polygon points="846.0,404.3 846.0,404.1 846.5,404.0 847.0,404.0 847.5,403.9 848.0,403.8 848.5,403.7 849.0,403.5 849.5,403.3 850.0,403.1 850.5,402.8 851.0,402.5 851.5,402.2 852.0,401.7 852.5,401.2 853.0,400.6 853.5,399.9 854.0,399.1 854.5,398.1 855.0,397.1 855.5,395.8 856.0,394.4 856.5,392.8 857.0,391.0 857.5,389.0 858.0,386.7 858.5,384.1 859.0,381.3 859.5,378.3 860.0,374.9 860.5,371.2 861.0,367.2 861.5,362.9 862.0,358.2 862.5,353.3 863.0,348.0 863.5,342.4 864.0,336.6 864.5,330.5 865.0,324.2 865.5,317.7 866.0,311.0 866.5,304.2 867.0,297.4 867.5,290.6 868.0,283.8 868.5,277.1 869.0,270.5 869.5,264.2 870.0,258.2 870.5,252.5 871.0,247.3 871.5,242.5 872.0,238.2 872.5,234.5 873.0,231.4 873.5,229.0 874.0,227.2 874.5,226.2 875.0,225.8 875.5,226.2 876.0,227.3 876.5,229.2 877.0,231.9 877.5,235.2 878.0,239.2 878.5,243.8 879.0,248.9 879.5,254.5 880.0,260.5 880.5,266.9 881.0,273.6 881.5,280.5 882.0,287.5 882.5,294.6 883.0,301.7 883.5,308.8 884.0,315.8 884.5,322.6 885.0,329.2 885.5,335.6 886.0,341.7 886.5,347.5 887.0,353.0 887.5,358.1 888.0,363.0 888.5,367.4 889.0,371.6 889.5,375.4 890.0,378.8 890.5,382.0 891.0,384.8 891.5,387.4 892.0,389.7 892.5,391.7 893.0,393.5 893.5,395.1 894.0,396.5 894.5,397.7 895.0,398.7 895.5,399.6 896.0,400.4 896.5,401.0 897.0,401.6 897.5,402.1 898.0,402.5 898.5,402.8 899.0,403.1 899.5,403.3 900.0,403.5 900.5,403.7 901.0,403.8 901.5,403.9 902.0,404.0 902.5,404.0 903.0,404.1 903.0,404.3" fill="rgb(146,217,154)"/>
<polygon points="864.3,404.8 866.5,401.0 869.2,395.3 873.0,379.8 875.9,362.5 878.8,343.2 880.7,331.6 882.7,320.0 884.5,310.0 885.8,305.1 887.5,304.0 889.7,302.8 891.5,303.5 894.3,295.9 896.6,289.7 898.1,295.9 899.7,297.4 902.0,299.0 903.5,311.3 905.9,317.5 908.2,323.6 910.5,326.7 912.8,329.8 915.1,332.9 918.2,337.0 920.0,336.0 921.3,340.0 922.4,346.0 922.8,360.0 923.1,376.4 925.5,386.0 928.0,394.0 930.0,399.5 934.7,404.2 936.0,404.8" fill="rgb(222,221,146)"/>
<polygon points="905.0,404.3 905.0,404.3 905.5,404.3 906.0,404.3 906.5,404.3 907.0,404.3 907.5,404.3 908.0,404.3 908.5,404.2 909.0,404.2 909.5,404.2 910.0,404.1 910.5,404.0 911.0,404.0 911.5,403.8 912.0,403.7 912.5,403.5 913.0,403.2 913.5,402.9 914.0,402.5 914.5,402.0 915.0,401.4 915.5,400.7 916.0,399.9 916.5,398.9 917.0,397.7 917.5,396.3 918.0,394.8 918.5,393.0 919.0,391.0 919.5,388.8 920.0,386.5 920.5,383.9 921.0,381.2 921.5,378.3 922.0,375.3 922.5,372.3 923.0,369.3 923.5,366.4 924.0,363.5 924.5,360.9 925.0,358.5 925.5,356.3 926.0,354.6 926.5,353.2 927.0,352.2 927.5,351.7 928.0,351.6 928.5,351.7 929.0,352.0 929.5,352.4 930.0,352.9 930.5,353.6 931.0,354.3 931.5,355.2 932.0,356.2 932.5,357.3 933.0,358.5 933.5,359.8 934.0,361.2 934.5,362.6 935.0,364.1 935.5,365.6 936.0,367.2 936.5,368.8 937.0,370.4 937.5,372.0 938.0,373.6 938.5,375.3 939.0,376.9 939.5,378.5 940.0,380.0 940.5,381.5 941.0,383.0 941.5,384.5 942.0,385.9 942.5,387.2 943.0,388.5 943.5,389.7 944.0,390.9 944.5,392.0 945.0,393.0 945.5,394.0 946.0,394.9 946.5,395.8 947.0,396.6 947.5,397.3 948.0,398.0 948.5,398.6 949.0,399.2 949.5,399.8 950.0,400.2 950.5,400.7 951.0,401.1 951.5,401.5 952.0,401.8 952.5,402.1 953.0,402.4 953.5,402.6 954.0,402.8 954.5,403.0 955.0,403.2 955.5,403.3 956.0,403.5 956.5,403.6 957.0,403.7 957.5,403.8 958.0,403.8 958.5,403.9 959.0,404.0 959.5,404.0 960.0,404.1 960.5,404.1 961.0,404.1 961.5,404.2 962.0,404.2 962.0,404.3" fill="rgb(146,248,245)"/>
<polygon points="864.3,404.8 866.5,401.0 869.2,395.3 873.0,379.8 875.9,362.5 878.8,343.2 880.7,331.6 882.7,320.0 884.5,310.0 885.8,305.1 887.5,304.0 889.7,302.8 891.5,303.5 894.3,295.9 896.6,289.7 898.1,295.9 899.7,297.4 902.0,299.0 903.5,311.3 905.9,317.5 908.2,323.6 910.5,326.7 912.8,329.8 915.1,332.9 918.2,337.0 920.0,336.0 921.3,340.0 922.4,346.0 922.8,360.0 923.1,376.4 925.5,386.0 928.0,394.0 930.0,399.5 934.7,404.2 936.0,404.8" fill="rgb(132,199,90)" clip-path="url(#cg13)"/>
<polygon points="864.3,404.8 866.5,401.0 869.2,395.3 873.0,379.8 875.9,362.5 878.8,343.2 880.7,331.6 882.7,320.0 884.5,310.0 885.8,305.1 887.5,304.0 889.7,302.8 891.5,303.5 894.3,295.9 896.6,289.7 898.1,295.9 899.7,297.4 902.0,299.0 903.5,311.3 905.9,317.5 908.2,323.6 910.5,326.7 912.8,329.8 915.1,332.9 918.2,337.0 920.0,336.0 921.3,340.0 922.4,346.0 922.8,360.0 923.1,376.4 925.5,386.0 928.0,394.0 930.0,399.5 934.7,404.2 936.0,404.8" fill="rgb(142,231,190)" clip-path="url(#cg23)"/>
<polyline points="864.3,404.8 866.5,401.0 869.2,395.3 873.0,379.8 875.9,362.5 878.8,343.2 880.7,331.6 882.7,320.0 884.5,310.0 885.8,305.1 887.5,304.0 889.7,302.8 891.5,303.5 894.3,295.9 896.6,289.7 898.1,295.9 899.7,297.4 902.0,299.0 903.5,311.3 905.9,317.5 908.2,323.6 910.5,326.7 912.8,329.8 915.1,332.9 918.2,337.0 920.0,336.0 921.3,340.0 922.4,346.0 922.8,360.0 923.1,376.4 925.5,386.0 928.0,394.0 930.0,399.5 934.7,404.2 936.0,404.8" fill="none" stroke="rgb(160,200,40)" stroke-width="1.1"/>
<polyline points="846.0,404.1 846.5,404.0 847.0,404.0 847.5,403.9 848.0,403.8 848.5,403.7 849.0,403.5 849.5,403.3 850.0,403.1 850.5,402.8 851.0,402.5 851.5,402.2 852.0,401.7 852.5,401.2 853.0,400.6 853.5,399.9 854.0,399.1 854.5,398.1 855.0,397.1 855.5,395.8 856.0,394.4 856.5,392.8 857.0,391.0 857.5,389.0 858.0,386.7 858.5,384.1 859.0,381.3 859.5,378.3 860.0,374.9 860.5,371.2 861.0,367.2 861.5,362.9 862.0,358.2 862.5,353.3 863.0,348.0 863.5,342.4 864.0,336.6 864.5,330.5 865.0,324.2 865.5,317.7 866.0,311.0 866.5,304.2 867.0,297.4 867.5,290.6 868.0,283.8 868.5,277.1 869.0,270.5 869.5,264.2 870.0,258.2 870.5,252.5 871.0,247.3 871.5,242.5 872.0,238.2 872.5,234.5 873.0,231.4 873.5,229.0 874.0,227.2 874.5,226.2 875.0,225.8 875.5,226.2 876.0,227.3 876.5,229.2 877.0,231.9 877.5,235.2 878.0,239.2 878.5,243.8 879.0,248.9 879.5,254.5 880.0,260.5 880.5,266.9 881.0,273.6 881.5,280.5 882.0,287.5 882.5,294.6 883.0,301.7 883.5,308.8 884.0,315.8 884.5,322.6 885.0,329.2 885.5,335.6 886.0,341.7 886.5,347.5 887.0,353.0 887.5,358.1 888.0,363.0 888.5,367.4 889.0,371.6 889.5,375.4 890.0,378.8 890.5,382.0 891.0,384.8 891.5,387.4 892.0,389.7 892.5,391.7 893.0,393.5 893.5,395.1 894.0,396.5 894.5,397.7 895.0,398.7 895.5,399.6 896.0,400.4 896.5,401.0 897.0,401.6 897.5,402.1 898.0,402.5 898.5,402.8 899.0,403.1 899.5,403.3 900.0,403.5 900.5,403.7 901.0,403.8 901.5,403.9 902.0,404.0 902.5,404.0 903.0,404.1" fill="none" stroke="rgb(40,200,40)" stroke-width="1.3"/>
<polyline points="905.0,404.3 905.5,404.3 906.0,404.3 906.5,404.3 907.0,404.3 907.5,404.3 908.0,404.3 908.5,404.2 909.0,404.2 909.5,404.2 910.0,404.1 910.5,404.0 911.0,404.0 911.5,403.8 912.0,403.7 912.5,403.5 913.0,403.2 913.5,402.9 914.0,402.5 914.5,402.0 915.0,401.4 915.5,400.7 916.0,399.9 916.5,398.9 917.0,397.7 917.5,396.3 918.0,394.8 918.5,393.0 919.0,391.0 919.5,388.8 920.0,386.5 920.5,383.9 921.0,381.2 921.5,378.3 922.0,375.3 922.5,372.3 923.0,369.3 923.5,366.4 924.0,363.5 924.5,360.9 925.0,358.5 925.5,356.3 926.0,354.6 926.5,353.2 927.0,352.2 927.5,351.7" fill="none" stroke="rgb(60,225,210)" stroke-width="1.2"/>
<polyline points="928.0,351.6 928.5,351.7 929.0,352.0 929.5,352.4 930.0,352.9 930.5,353.6 931.0,354.3 931.5,355.2 932.0,356.2 932.5,357.3 933.0,358.5 933.5,359.8 934.0,361.2 934.5,362.6 935.0,364.1 935.5,365.6 936.0,367.2 936.5,368.8 937.0,370.4 937.5,372.0 938.0,373.6 938.5,375.3 939.0,376.9 939.5,378.5 940.0,380.0 940.5,381.5 941.0,383.0 941.5,384.5 942.0,385.9 942.5,387.2 943.0,388.5 943.5,389.7 944.0,390.9 944.5,392.0 945.0,393.0 945.5,394.0 946.0,394.9 946.5,395.8 947.0,396.6 947.5,397.3 948.0,398.0 948.5,398.6 949.0,399.2 949.5,399.8 950.0,400.2 950.5,400.7 951.0,401.1 951.5,401.5 952.0,401.8 952.5,402.1 953.0,402.4 953.5,402.6 954.0,402.8 954.5,403.0 955.0,403.2 955.5,403.3 956.0,403.5 956.5,403.6 957.0,403.7 957.5,403.8 958.0,403.8 958.5,403.9 959.0,404.0 959.5,404.0 960.0,404.1 960.5,404.1 961.0,404.1 961.5,404.2 962.0,404.2" fill="none" stroke="rgb(100,120,240)" stroke-width="1.2"/>
<line x1="818.7" y1="406.6" x2="1123.5" y2="406.6" stroke="rgb(40,210,215)" stroke-width="1.6"/>
<line x1="818.7" y1="404.90000000000003" x2="1123.5" y2="404.90000000000003" stroke="rgb(120,110,110)" stroke-width="1"/>
<polyline points="818.7,404.3 821.9,404.0 825.7,401.1 828.6,393.4 830.5,374.1 831.9,349.0 833.1,320.0 833.8,307.2 835.4,278.3 836.9,249.3 838.3,230.0 839.3,219.6 841.2,196.4 843.0,173.3 844.6,150.1 846.3,135.1 848.1,131.1 851.6,131.1 853.2,133.9 855.1,145.5 856.9,154.7 858.5,157.1 859.7,147.8 860.9,145.5 862.5,150.1 864.3,166.3 866.6,180.2 868.5,186.2 871.2,205.1 873.9,226.8 876.0,233.0 878.0,240.3 880.7,251.1 883.4,261.9 886.1,272.7 888.8,283.5 891.2,290.0 893.5,292.0 896.6,288.5 898.1,297.0 900.5,299.0 902.8,301.0 904.3,313.5 906.6,317.0 909.0,322.0 911.3,318.5 912.8,325.0 914.4,329.8 917.4,332.9 920.8,334.6 923.1,343.9 924.7,348.5 927.0,350.1 929.3,351.6 931.6,354.7 935.5,360.9 938.6,370.2 940.9,379.5 943.2,388.7 946.3,398.0 949.4,404.2 953.0,404.3" fill="none" stroke="#000" stroke-width="1.2" stroke-linejoin="round"/>
<polyline points="845.0,404.8 847.9,404.9 852.7,401.1 856.6,391.4 859.5,370.2 861.4,345.1 863.4,320.0 865.3,310.0 866.4,283.5 868.5,251.1 870.7,224.1 872.6,205.1 874.5,194.3 876.5,189.0 878.0,186.2 879.5,190.0 880.7,197.0 883.4,224.1 886.1,251.1 887.5,264.7 888.1,274.3 890.4,285.1 891.2,295.9 893.5,289.7 896.6,285.1 898.1,295.9 900.5,297.4 902.8,299.0 904.3,312.8 906.6,315.9 909.0,320.6 911.3,315.9 912.8,322.1 915.1,325.2 917.4,323.6 919.8,317.5 921.3,326.7 923.6,332.9 925.5,330.0 928.5,337.7 931.6,347.0 934.7,356.3 937.0,364.0 939.4,374.8 941.7,384.1 944.0,393.4 947.1,401.1 950.2,404.2 953.0,404.5" fill="none" stroke="#ff00ff" stroke-width="1.8" stroke-linejoin="round"/>
<line x1="953" y1="404.0" x2="1123.5" y2="404.0" stroke="#000" stroke-width="3"/>
<line x1="818.7" y1="404.0" x2="822.7" y2="404.0" stroke="#000" stroke-width="3"/>
<line x1="818.7" y1="104.5" x2="1123.5" y2="104.5" stroke="#444" stroke-width="1.5"/>
<line x1="1123.5" y1="103.8" x2="1123.5" y2="405.3" stroke="#111" stroke-width="2.4"/>
<line x1="818.7" y1="103.8" x2="818.7" y2="413.3" stroke="#222" stroke-width="1.3"/>
<line x1="810.7" y1="404.3" x2="818.7" y2="404.3" stroke="#333" stroke-width="1.2"/>
<line x1="814.7" y1="387.59000000000003" x2="818.7" y2="387.59000000000003" stroke="#333" stroke-width="1.2"/>
<line x1="814.7" y1="370.88" x2="818.7" y2="370.88" stroke="#333" stroke-width="1.2"/>
<line x1="814.7" y1="354.17" x2="818.7" y2="354.17" stroke="#333" stroke-width="1.2"/>
<line x1="814.7" y1="337.46000000000004" x2="818.7" y2="337.46000000000004" stroke="#333" stroke-width="1.2"/>
<line x1="810.7" y1="320.75" x2="818.7" y2="320.75" stroke="#333" stroke-width="1.2"/>
<line x1="814.7" y1="304.04" x2="818.7" y2="304.04" stroke="#333" stroke-width="1.2"/>
<line x1="814.7" y1="287.33000000000004" x2="818.7" y2="287.33000000000004" stroke="#333" stroke-width="1.2"/>
<line x1="814.7" y1="270.62" x2="818.7" y2="270.62" stroke="#333" stroke-width="1.2"/>
<line x1="814.7" y1="253.91" x2="818.7" y2="253.91" stroke="#333" stroke-width="1.2"/>
<line x1="810.7" y1="237.20000000000002" x2="818.7" y2="237.20000000000002" stroke="#333" stroke-width="1.2"/>
<line x1="814.7" y1="220.49" x2="818.7" y2="220.49" stroke="#333" stroke-width="1.2"/>
<line x1="814.7" y1="203.78" x2="818.7" y2="203.78" stroke="#333" stroke-width="1.2"/>
<line x1="814.7" y1="187.07" x2="818.7" y2="187.07" stroke="#333" stroke-width="1.2"/>
<line x1="814.7" y1="170.36" x2="818.7" y2="170.36" stroke="#333" stroke-width="1.2"/>
<line x1="810.7" y1="153.65" x2="818.7" y2="153.65" stroke="#333" stroke-width="1.2"/>
<line x1="814.7" y1="136.94" x2="818.7" y2="136.94" stroke="#333" stroke-width="1.2"/>
<line x1="814.7" y1="120.23000000000002" x2="818.7" y2="120.23000000000002" stroke="#333" stroke-width="1.2"/>
<line x1="818.8" y1="406.3" x2="818.8" y2="413.8" stroke="#222" stroke-width="1.4"/>
<line x1="833.6999999999999" y1="406.3" x2="833.6999999999999" y2="410.3" stroke="#222" stroke-width="1.4"/>
<line x1="848.5999999999999" y1="406.3" x2="848.5999999999999" y2="410.3" stroke="#222" stroke-width="1.4"/>
<line x1="863.5" y1="406.3" x2="863.5" y2="410.3" stroke="#222" stroke-width="1.4"/>
<line x1="878.4" y1="406.3" x2="878.4" y2="413.8" stroke="#222" stroke-width="1.4"/>
<line x1="893.3" y1="406.3" x2="893.3" y2="410.3" stroke="#222" stroke-width="1.4"/>
<line x1="908.1999999999999" y1="406.3" x2="908.1999999999999" y2="410.3" stroke="#222" stroke-width="1.4"/>
<line x1="923.0999999999999" y1="406.3" x2="923.0999999999999" y2="410.3" stroke="#222" stroke-width="1.4"/>
<line x1="938.0" y1="406.3" x2="938.0" y2="413.8" stroke="#222" stroke-width="1.4"/>
<line x1="952.9" y1="406.3" x2="952.9" y2="410.3" stroke="#222" stroke-width="1.4"/>
<line x1="967.8" y1="406.3" x2="967.8" y2="410.3" stroke="#222" stroke-width="1.4"/>
<line x1="982.6999999999999" y1="406.3" x2="982.6999999999999" y2="410.3" stroke="#222" stroke-width="1.4"/>
<line x1="997.5999999999999" y1="406.3" x2="997.5999999999999" y2="413.8" stroke="#222" stroke-width="1.4"/>
<line x1="1012.5" y1="406.3" x2="1012.5" y2="410.3" stroke="#222" stroke-width="1.4"/>
<line x1="1027.3999999999999" y1="406.3" x2="1027.3999999999999" y2="410.3" stroke="#222" stroke-width="1.4"/>
<line x1="1042.3" y1="406.3" x2="1042.3" y2="410.3" stroke="#222" stroke-width="1.4"/>
<line x1="1057.1999999999998" y1="406.3" x2="1057.1999999999998" y2="413.8" stroke="#222" stroke-width="1.4"/>
<line x1="1072.1" y1="406.3" x2="1072.1" y2="410.3" stroke="#222" stroke-width="1.4"/>
<line x1="1087.0" y1="406.3" x2="1087.0" y2="410.3" stroke="#222" stroke-width="1.4"/>
<line x1="1101.8999999999999" y1="406.3" x2="1101.8999999999999" y2="410.3" stroke="#222" stroke-width="1.4"/>
<line x1="1116.8" y1="406.3" x2="1116.8" y2="413.8" stroke="#222" stroke-width="1.4"/>
<text x="779.42" y="159.35" font-family="'Liberation Sans', Arial, sans-serif" font-size="14.69" font-weight="normal" fill="#383838" textLength="25.48" lengthAdjust="spacingAndGlyphs" >150</text>
<text x="779.11" y="242.80" font-family="'Liberation Sans', Arial, sans-serif" font-size="14.69" font-weight="normal" fill="#383838" textLength="26.12" lengthAdjust="spacingAndGlyphs" >100</text>
<text x="786.63" y="328.05" font-family="'Liberation Sans', Arial, sans-serif" font-size="14.69" font-weight="normal" fill="#383838" textLength="18.76" lengthAdjust="spacingAndGlyphs" >50</text>
<text x="796.35" y="406.30" font-family="'Liberation Sans', Arial, sans-serif" font-size="14.69" font-weight="normal" fill="#383838" textLength="9.06" lengthAdjust="spacingAndGlyphs" >0</text>
<text x="816.93" y="436.52" font-family="'Liberation Sans', Arial, sans-serif" font-size="14.69" font-weight="normal" fill="#383838" textLength="7.96" lengthAdjust="spacingAndGlyphs" >0</text>
<text x="861.10" y="436.53" font-family="'Liberation Sans', Arial, sans-serif" font-size="14.69" font-weight="normal" fill="#383838" textLength="24.55" lengthAdjust="spacingAndGlyphs" >200</text>
<text x="921.29" y="435.97" font-family="'Liberation Sans', Arial, sans-serif" font-size="14.69" font-weight="normal" fill="#383838" textLength="23.87" lengthAdjust="spacingAndGlyphs" >400</text>
<text x="978.10" y="436.63" font-family="'Liberation Sans', Arial, sans-serif" font-size="14.69" font-weight="normal" fill="#383838" textLength="26.28" lengthAdjust="spacingAndGlyphs" >600</text>
<text x="1038.61" y="436.65" font-family="'Liberation Sans', Arial, sans-serif" font-size="14.69" font-weight="normal" fill="#383838" textLength="25.93" lengthAdjust="spacingAndGlyphs" >800</text>
<text x="1100.20" y="435.83" font-family="'Liberation Sans', Arial, sans-serif" font-size="14.69" font-weight="normal" fill="#383838" textLength="20.17" lengthAdjust="spacingAndGlyphs" >1K</text>
<text x="927.72" y="460.19" font-family="'Liberation Sans', Arial, sans-serif" font-size="13.72" font-weight="normal" fill="#222" textLength="87.07" lengthAdjust="spacingAndGlyphs" >DNA Content</text>
<text transform="translate(758.48,255.04) rotate(-90)" x="0" y="0" text-anchor="middle" font-family="'Liberation Sans', Arial, sans-serif" font-size="15.81" font-weight="normal" fill="#222" textLength="39.72" lengthAdjust="spacingAndGlyphs">Count</text>
<g transform="translate(168.88,0) scale(0.85,1)"><text x="0" y="82.60" font-family="'Liberation Serif', 'Times New Roman', serif" font-size="25.77" font-weight="bold" fill="#000" textLength="142.44" lengthAdjust="spacing" >Non-treated</text></g>
<text x="506.72" y="84.50" font-family="'Liberation Serif', 'Times New Roman', serif" font-size="23.42" font-weight="bold" fill="#000" textLength="167.37" lengthAdjust="spacingAndGlyphs" >30 µM piroxicam</text>
<g transform="translate(877.33,0) scale(0.85,1)"><text x="0" y="81.40" font-family="'Liberation Serif', 'Times New Roman', serif" font-size="26.02" font-weight="bold" fill="#000" textLength="242.66" lengthAdjust="spacing" >1 µM dexamethasone</text></g>
<text x="1353.72" y="49.10" font-family="'Liberation Serif', 'Times New Roman', serif" font-size="26.22" font-weight="bold" fill="#000" textLength="202.34" lengthAdjust="spacingAndGlyphs" >A-172 cell line</text>
<rect x="1602.2" y="14.9" width="28.6" height="18" fill="#000"/>
<rect x="1602.0" y="62.1" width="28.8" height="17.9" fill="rgb(85,68,48)"/>
<rect x="1606.9" y="66.9" width="19.2" height="7.8" fill="rgb(234,166,92)"/>
<rect x="1602.0" y="109.5" width="28.8" height="16.2" fill="rgb(35,70,120)"/>
<rect x="1605.7" y="113" width="21.4" height="9.2" fill="rgb(150,178,214)"/>
<g transform="translate(1642.77,0) scale(0.88,1)"><text x="0" y="31.50" font-family="'Liberation Serif', 'Times New Roman', serif" font-size="28.30" font-weight="bold" fill="#000" textLength="143.38" lengthAdjust="spacing" >Non-treated</text></g>
<g transform="translate(1643.52,0) scale(0.85,1)"><text x="0" y="77.30" font-family="'Liberation Serif', 'Times New Roman', serif" font-size="24.60" font-weight="bold" fill="#000" textLength="344.04" lengthAdjust="spacing" >Piroxam treatment (30 µM)</text></g>
<g transform="translate(1644.09,0) scale(0.9,1)"><text x="0" y="127.90" font-family="'Liberation Serif', 'Times New Roman', serif" font-size="26.18" font-weight="bold" fill="#000" textLength="390.42" lengthAdjust="spacing" >Dexamethasone treatment (1 µM)</text></g>
<rect x="1206.2" y="91.2" width="5" height="210.5" fill="#000"/>
<rect x="1206.2" y="312" width="5" height="113.9" fill="#000"/>
<rect x="1202" y="298.6" width="13.6" height="4.6" fill="#000"/>
<rect x="1202" y="311.1" width="13.6" height="4.3" fill="#000"/>
<rect x="1197.6" y="91.2" width="9" height="4.2" fill="#000"/>
<rect x="1197.6" y="161.1" width="9" height="4.2" fill="#000"/>
<rect x="1197.6" y="231.0" width="9" height="4.2" fill="#000"/>
<rect x="1197.6" y="333.7" width="9" height="4" fill="#000"/>
<rect x="1197.6" y="377.9" width="9" height="4" fill="#000"/>
<rect x="1197.6" y="421.5" width="478.2" height="4.4" fill="#000"/>
<rect x="1280.0" y="425" width="3" height="13.7" fill="#000"/>
<rect x="1439.7" y="425" width="3" height="13.7" fill="#000"/>
<rect x="1599.6" y="425" width="3" height="13.7" fill="#000"/>
<g transform="translate(1172.14,0) scale(0.85,1)"><text x="0" y="102.20" font-family="'Liberation Serif', 'Times New Roman', serif" font-size="25.84" font-weight="bold" fill="#000" textLength="25.13" lengthAdjust="spacing" >35</text></g>
<g transform="translate(1172.14,0) scale(0.85,1)"><text x="0" y="171.50" font-family="'Liberation Serif', 'Times New Roman', serif" font-size="25.72" font-weight="bold" fill="#000" textLength="25.11" lengthAdjust="spacing" >30</text></g>
<g transform="translate(1172.19,0) scale(0.85,1)"><text x="0" y="241.30" font-family="'Liberation Serif', 'Times New Roman', serif" font-size="25.57" font-weight="bold" fill="#000" textLength="24.78" lengthAdjust="spacing" >25</text></g>
<g transform="translate(1172.72,0) scale(0.85,1)"><text x="0" y="311.40" font-family="'Liberation Serif', 'Times New Roman', serif" font-size="26.18" font-weight="bold" fill="#000" textLength="24.24" lengthAdjust="spacing" >20</text></g>
<g transform="translate(1182.44,0) scale(0.85,1)"><text x="0" y="344.40" font-family="'Liberation Serif', 'Times New Roman', serif" font-size="25.18" font-weight="bold" fill="#000" textLength="13.69" lengthAdjust="spacing" >8</text></g>
<g transform="translate(1182.27,0) scale(0.85,1)"><text x="0" y="388.90" font-family="'Liberation Serif', 'Times New Roman', serif" font-size="25.71" font-weight="bold" fill="#000" textLength="9.12" lengthAdjust="spacing" >4</text></g>
<g transform="translate(1182.38,0) scale(0.85,1)"><text x="0" y="433.00" font-family="'Liberation Serif', 'Times New Roman', serif" font-size="26.09" font-weight="bold" fill="#000" textLength="6.15" lengthAdjust="spacing" >0</text></g>
<text transform="translate(1160.23,259.57) rotate(-90)" x="0" y="0" text-anchor="middle" font-family="'Liberation Serif', 'Times New Roman', serif" font-size="24.00" font-weight="bold" fill="#000" textLength="117.13" lengthAdjust="spacingAndGlyphs">Cells <tspan font-weight="normal">(%)</tspan></text>
<text x="1267.21" y="465.00" font-family="'Liberation Serif', 'Times New Roman', serif" font-size="27.40" font-weight="bold" fill="#000" textLength="28.30" lengthAdjust="spacingAndGlyphs" >G1</text>
<text x="1434.18" y="464.50" font-family="'Liberation Serif', 'Times New Roman', serif" font-size="26.62" font-weight="bold" fill="#000" textLength="13.75" lengthAdjust="spacingAndGlyphs" >S</text>
<text x="1575.39" y="465.00" font-family="'Liberation Serif', 'Times New Roman', serif" font-size="27.40" font-weight="bold" fill="#000" textLength="52.81" lengthAdjust="spacingAndGlyphs" >G2/M</text>
<text x="1316.01" y="504.70" font-family="'Liberation Serif', 'Times New Roman', serif" font-size="21.92" font-weight="bold" fill="#000" textLength="244.71" lengthAdjust="spacingAndGlyphs" >Cell cycle phase</text>
<line x1="1238.1" y1="182.7" x2="1238.1" y2="216" stroke="#111" stroke-width="1.6"/>
<line x1="1230.8" y1="182.7" x2="1244.6" y2="182.7" stroke="#111" stroke-width="2.2"/>
<line x1="1281.6" y1="217.3" x2="1281.6" y2="262" stroke="rgb(70,55,38)" stroke-width="2"/>
<line x1="1274.3" y1="217.3" x2="1289.2" y2="217.3" stroke="rgb(70,55,38)" stroke-width="2.2"/>
<line x1="1325.7" y1="203.8" x2="1325.7" y2="242" stroke="rgb(70,95,135)" stroke-width="1.6"/>
<line x1="1318.9" y1="203.8" x2="1332.7" y2="203.8" stroke="rgb(70,95,135)" stroke-width="2.2"/>
<line x1="1397.7" y1="133.7" x2="1397.7" y2="181" stroke="#222" stroke-width="1.4"/>
<line x1="1391" y1="133.7" x2="1404.9" y2="133.7" stroke="#222" stroke-width="2.2"/>
<line x1="1443.4" y1="253.5" x2="1443.4" y2="272" stroke="rgb(70,55,38)" stroke-width="1.6"/>
<line x1="1434.2" y1="253.5" x2="1448.9" y2="253.5" stroke="rgb(70,55,38)" stroke-width="2.2"/>
<line x1="1486.3" y1="185" x2="1486.3" y2="225" stroke="rgb(30,60,110)" stroke-width="1.8"/>
<line x1="1479" y1="185" x2="1492.5" y2="185" stroke="rgb(30,60,110)" stroke-width="2.2"/>
<line x1="1558.6" y1="319.7" x2="1558.6" y2="327" stroke="#000" stroke-width="2"/>
<line x1="1551.3" y1="319.7" x2="1566" y2="319.7" stroke="#000" stroke-width="2.2"/>
<line x1="1602.5" y1="386.8" x2="1602.5" y2="399" stroke="rgb(70,55,38)" stroke-width="1.8"/>
<line x1="1595.3" y1="386.8" x2="1608.9" y2="386.8" stroke="rgb(70,55,38)" stroke-width="2.2"/>
<line x1="1644.6" y1="352.7" x2="1644.6" y2="361" stroke="rgb(30,60,110)" stroke-width="2"/>
<line x1="1638.2" y1="352.7" x2="1651" y2="352.7" stroke="rgb(30,60,110)" stroke-width="2.2"/>
<rect x="1224" y="215.9" width="28.40000000000009" height="85.29999999999998" fill="#000"/>
<rect x="1224" y="313.3" width="28.40000000000009" height="108.19999999999999" fill="#000"/>
<rect x="1266.8" y="261.1" width="29.7" height="40.1" fill="rgb(80,63,44)"/>
<rect x="1271.5" y="265.9" width="20.9" height="35.3" fill="rgb(234,166,92)"/>
<rect x="1266.8" y="313.3" width="29.7" height="108.2" fill="rgb(80,63,44)"/>
<rect x="1271.5" y="313.3" width="20.9" height="108.2" fill="rgb(234,166,92)"/>
<rect x="1311.2" y="241.1" width="28.8" height="60.1" fill="rgb(30,62,108)"/>
<rect x="1314.0" y="246.1" width="21.4" height="55.1" fill="rgb(150,177,212)"/>
<rect x="1311.2" y="313.3" width="28.8" height="108.2" fill="rgb(30,62,108)"/>
<rect x="1314.0" y="313.3" width="21.4" height="108.2" fill="rgb(150,177,212)"/>
<rect x="1383.5" y="180.5" width="28.40000000000009" height="120.69999999999999" fill="#000"/>
<rect x="1383.5" y="313.3" width="28.40000000000009" height="108.19999999999999" fill="#000"/>
<rect x="1428.7" y="271.1" width="28.6" height="30.1" fill="rgb(80,63,44)"/>
<rect x="1433.4" y="275.9" width="19.8" height="25.3" fill="rgb(234,166,92)"/>
<rect x="1428.7" y="313.3" width="28.6" height="108.2" fill="rgb(80,63,44)"/>
<rect x="1433.4" y="313.3" width="19.8" height="108.2" fill="rgb(234,166,92)"/>
<rect x="1472" y="223.8" width="29.0" height="77.4" fill="rgb(30,62,108)"/>
<rect x="1474.8" y="228.8" width="21.6" height="72.4" fill="rgb(150,177,212)"/>
<rect x="1472" y="313.3" width="29.0" height="108.2" fill="rgb(30,62,108)"/>
<rect x="1474.8" y="313.3" width="21.6" height="108.2" fill="rgb(150,177,212)"/>
<rect x="1543.9" y="326.3" width="29.399999999999864" height="95.19999999999999" fill="#000"/>
<rect x="1588" y="398.6" width="29.0" height="22.9" fill="rgb(80,63,44)"/>
<rect x="1592.7" y="403.4" width="20.2" height="18.1" fill="rgb(234,166,92)"/>
<rect x="1630.9" y="360" width="29.3" height="61.5" fill="rgb(30,62,108)"/>
<rect x="1633.7" y="365.0" width="21.9" height="56.5" fill="rgb(150,177,212)"/>
<line x1="1559.3" y1="277.8" x2="1643.3" y2="277.8" stroke="#111" stroke-width="1.7"/>
<line x1="1559.3" y1="271.4" x2="1559.3" y2="284.8" stroke="#111" stroke-width="1.7"/>
<line x1="1643.3" y1="271.4" x2="1643.3" y2="284.8" stroke="#111" stroke-width="1.7"/>
<line x1="1559.3" y1="294.6" x2="1602.7" y2="294.6" stroke="#111" stroke-width="1.7"/>
<line x1="1559.3" y1="287.7" x2="1559.3" y2="301.9" stroke="#111" stroke-width="1.7"/>
<line x1="1602.7" y1="287.7" x2="1602.7" y2="301.9" stroke="#111" stroke-width="1.7"/>
<g transform="translate(1587.6,285.4) scale(1,1.2)"><text x="0" y="0" font-family="'Noto Serif CJK SC', serif" font-weight="bold" font-size="30" textLength="33.3" lengthAdjust="spacing" stroke="#000" stroke-width="0.6">**</text></g></svg>
</body></html>
